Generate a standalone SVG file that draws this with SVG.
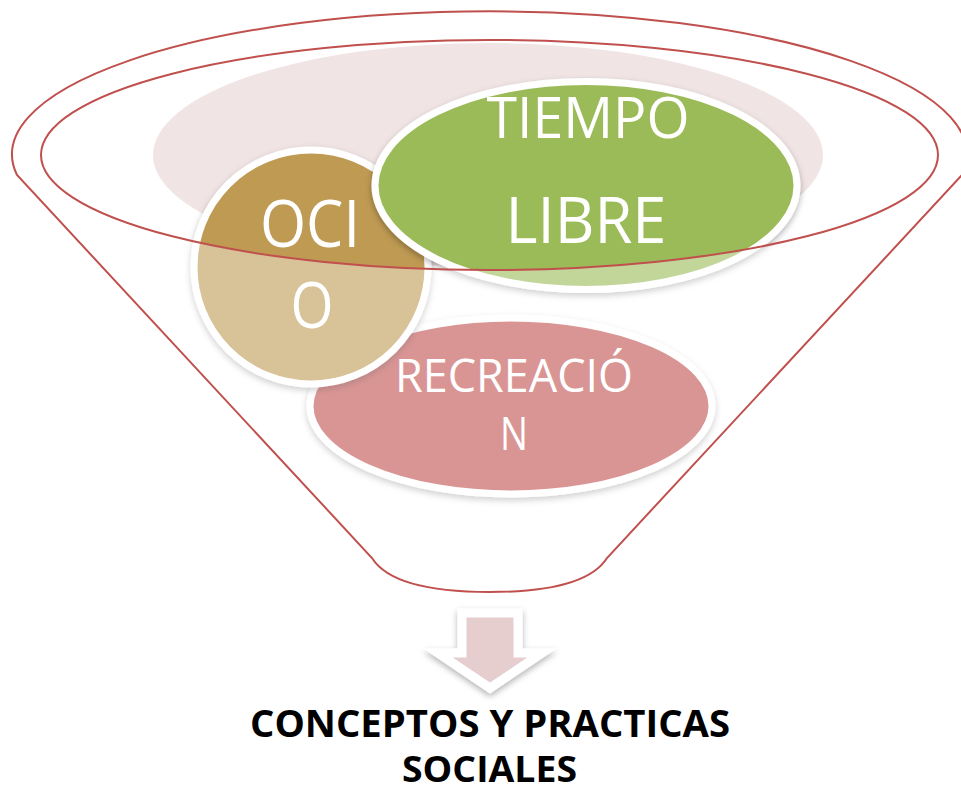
<svg xmlns="http://www.w3.org/2000/svg" width="961" height="794" viewBox="0 0 961 794">
<defs>
<style>
.lbl{font-family:"Open Sans","Noto Sans",sans-serif;fill:#ffffff;text-anchor:middle}
.out{font-family:"Open Sans","Noto Sans",sans-serif;font-weight:700;fill:#000000;text-anchor:middle}
.red{fill:none;stroke:#C0504D;stroke-width:2}
.bub{stroke:#ffffff;stroke-width:7}
</style>
<filter id="sh" x="-20%" y="-20%" width="140%" height="150%">
<feDropShadow dx="0" dy="3" stdDeviation="3" flood-color="#000" flood-opacity="0.3"/>
</filter>
</defs>
<rect width="961" height="794" fill="#ffffff"/>
<ellipse id="bg" cx="488" cy="155" rx="335" ry="112" fill="#F1E4E5"/>
<g id="recreacion">
<ellipse cx="511" cy="406" rx="201" ry="88" fill="#C0504D" class="bub" filter="url(#sh)"/>
</g>
<g id="ocio">
<circle cx="311" cy="267" r="117" fill="#BE9A52" class="bub" filter="url(#sh)"/>
</g>
<g id="tiempo-libre">
<ellipse cx="586" cy="185.5" rx="211" ry="104" fill="#9BBB59" class="bub" filter="url(#sh)"/>
</g>
<g id="funnel">
<path d="M17,175 A477.5,143 0 1 1 962,175 L607,558 C590,585 540,592 489.5,592 C439,592 389,585 372,558 Z M938,155 A448.5,115 0 1 0 41,155 A448.5,115 0 1 0 938,155 Z" fill="#ffffff" fill-opacity="0.4" fill-rule="evenodd"/>
<path class="red" d="M17,175 A477.5,143 0 1 1 962,175 L607,558 C590,585 540,592 489.5,592 C439,592 389,585 372,558 Z"/>
<ellipse class="red" cx="489.5" cy="155" rx="448.5" ry="115"/>
</g>
<g id="labels">
<text class="lbl" x="588" y="138" font-size="56" textLength="203" lengthAdjust="spacingAndGlyphs">TIEMPO</text>
<text class="lbl" x="586" y="243" font-size="64" textLength="161" lengthAdjust="spacingAndGlyphs">LIBRE</text>
<text class="lbl" x="310" y="247" font-size="66" textLength="100" lengthAdjust="spacingAndGlyphs">OCI</text>
<text class="lbl" x="312" y="328" font-size="64" textLength="43" lengthAdjust="spacingAndGlyphs">O</text>
<text class="lbl" x="514" y="392" font-size="45" textLength="238" lengthAdjust="spacingAndGlyphs">RECREACIÓ</text>
<text class="lbl" x="514" y="450" font-size="46" textLength="28" lengthAdjust="spacingAndGlyphs">N</text>
</g>
<g id="arrow">
<polygon points="462,613 518,613 518,653 542,653 490,688 438,653 462,653" fill="#E6CDCE" stroke="#ffffff" stroke-width="9" filter="url(#sh)"/>
</g>
<g id="result">
<text class="out" x="490" y="737" font-size="38" textLength="480" lengthAdjust="spacingAndGlyphs">CONCEPTOS Y PRACTICAS</text>
<text class="out" x="489.5" y="782" font-size="36" textLength="175" lengthAdjust="spacingAndGlyphs">SOCIALES</text>
</g>
</svg>
